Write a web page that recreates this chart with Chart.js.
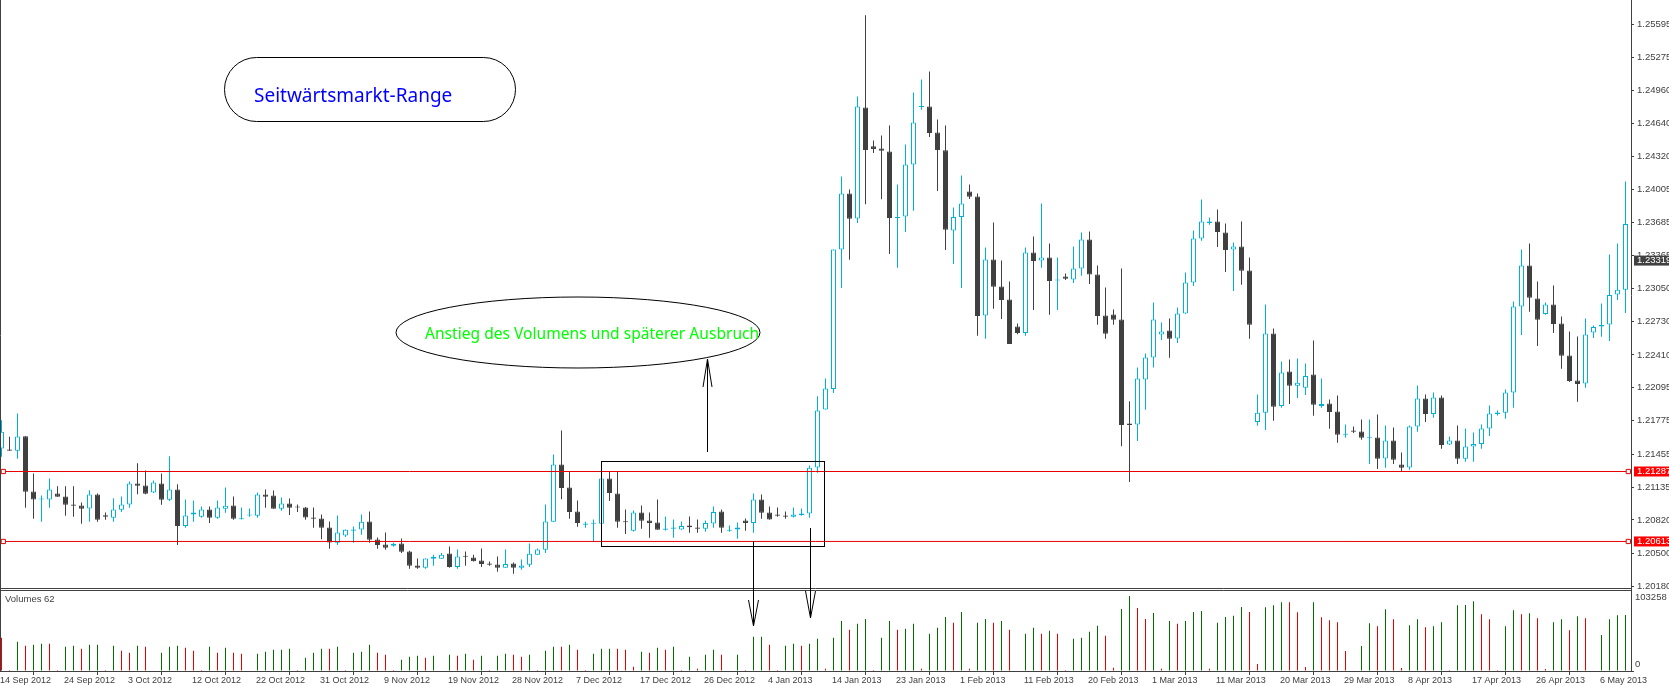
<!DOCTYPE html>
<html>
<head>
<meta charset="utf-8">
<style>
  html, body { margin: 0; padding: 0; background: #fff; overflow: hidden; }
  canvas { display: block; }
</style>
<script src="https://cdn.jsdelivr.net/npm/chart.js@4.4.2/dist/chart.umd.min.js"></script>
</head>
<body>
<canvas id="chart" width="1669" height="685"></canvas>
<script>
const dateLabels = ['14 Sep 2012','24 Sep 2012','3 Oct 2012','12 Oct 2012','22 Oct 2012','31 Oct 2012','9 Nov 2012','19 Nov 2012','28 Nov 2012','7 Dec 2012','17 Dec 2012','26 Dec 2012','4 Jan 2013','14 Jan 2013','23 Jan 2013','1 Feb 2013','11 Feb 2013','20 Feb 2013','1 Mar 2013','11 Mar 2013','20 Mar 2013','29 Mar 2013','8 Apr 2013','17 Apr 2013','26 Apr 2013','6 May 2013'];
const barsPerDateLabel = 8;
const priceTicks = [1.25595,1.25275,1.2496,1.2464,1.2432,1.24005,1.23685,1.23365,1.2305,1.2273,1.2241,1.22095,1.21775,1.21455,1.21135,1.2082,1.205,1.2018];
const levelHigh = 1.21287;
const levelLow = 1.20613;
const lastPrice = 1.23319;
const volumeMaxLabel = 103258;

const opens = [
1.21508,1.21499,1.21486,1.21627,1.21094,1.21017,1.21017,1.21075,1.21046,1.20969,
1.20959,1.20930,1.21065,1.20866,1.20841,1.20918,1.20969,1.21171,1.21152,1.21085,
1.21171,1.21014,1.21113,1.20763,1.20873,1.20850,1.20921,1.20841,1.20927,1.20959,
1.20828,1.20863,1.20860,1.21065,1.21056,1.20927,1.20979,1.20950,1.20940,1.20844,
1.20834,1.20747,1.20600,1.20670,1.20715,1.20728,1.20805,1.20632,1.20584,1.20571,
1.20593,1.20516,1.20381,1.20359,1.20446,1.20446,1.20497,1.20368,1.20474,1.20458,
1.20429,1.20401,1.20391,1.20359,1.20401,1.20359,1.20388,1.20484,1.20532,1.20802,
1.21354,1.21133,1.20902,1.20773,1.20783,1.20783,1.21219,1.21075,1.20805,1.20715,
1.20892,1.20815,1.20796,1.20725,1.20735,1.20728,1.20767,1.20747,1.20735,1.20786,
1.20902,1.20715,1.20728,1.20815,1.20792,1.21017,1.20892,1.20873,1.20863,1.20850,
1.20869,1.20882,1.21325,1.21884,1.22083,1.23425,1.23965,1.23724,1.24793,1.24421,
1.24398,1.24369,1.23730,1.23743,1.24244,1.24799,1.24803,1.24552,1.24382,1.23608,
1.23740,1.23984,1.23936,1.22789,1.23329,1.23069,1.22944,1.22683,1.22622,1.23396,
1.23319,1.23348,1.23127,1.23165,1.23136,1.23242,1.23521,1.23184,1.22789,1.22799,
1.22751,1.21749,1.21739,1.22173,1.22385,1.22606,1.22645,1.22568,1.22809,1.23107,
1.23531,1.23682,1.23695,1.23589,1.23425,1.23454,1.23223,1.21765,1.21852,1.22616,
1.21919,1.22250,1.22112,1.22093,1.22221,1.21919,1.21942,1.21865,1.21640,1.21682,
1.21672,1.21611,1.21614,1.21412,1.21585,1.21354,1.21325,1.21720,1.21990,1.21842,
1.21999,1.21547,1.21585,1.21409,1.21527,1.21553,1.21701,1.21842,1.21852,1.22048,
1.22876,1.23271,1.22953,1.22805,1.22895,1.22712,1.22404,1.22163,1.22134,1.22626,
1.22683,1.22703,1.22992,1.23037];
const highs = [
1.21781,1.21621,1.21846,1.21627,1.21268,1.21056,1.21219,1.21146,1.21146,1.21146,
1.20988,1.21107,1.21075,1.20892,1.21030,1.21046,1.21191,1.21367,1.21296,1.21200,
1.21268,1.21435,1.21165,1.21017,1.21007,1.20950,1.20950,1.21007,1.21133,1.21046,
1.20940,1.20930,1.21085,1.21113,1.21104,1.21036,1.21027,1.20969,1.20946,1.20940,
1.20873,1.20805,1.20863,1.20728,1.20757,1.20873,1.20902,1.20651,1.20699,1.20600,
1.20641,1.20523,1.20449,1.20449,1.20484,1.20503,1.20564,1.20535,1.20516,1.20484,
1.20545,1.20420,1.20468,1.20535,1.20410,1.20439,1.20593,1.20545,1.20969,1.21451,
1.21682,1.21287,1.21007,1.20802,1.20824,1.21219,1.21287,1.21284,1.20921,1.20911,
1.20959,1.20892,1.21017,1.20853,1.20824,1.20805,1.20853,1.20824,1.20815,1.20950,
1.20921,1.20767,1.20796,1.20834,1.21075,1.21065,1.20950,1.20940,1.20902,1.20940,
1.20930,1.21345,1.22012,1.22182,1.23425,1.24128,1.24003,1.24899,1.25683,1.24475,
1.24523,1.24620,1.24051,1.24437,1.24938,1.25063,1.25140,1.24677,1.24620,1.23830,
1.24138,1.24051,1.23965,1.23444,1.23685,1.23319,1.23117,1.22712,1.23444,1.23550,
1.23868,1.23483,1.23348,1.23194,1.23454,1.23589,1.23599,1.23271,1.23059,1.22847,
1.23242,1.21964,1.22289,1.22423,1.22915,1.22722,1.22761,1.22866,1.23204,1.23608,
1.23907,1.23733,1.23810,1.23676,1.23493,1.23695,1.23348,1.22028,1.22895,1.22664,
1.22346,1.22365,1.22375,1.22327,1.22549,1.22182,1.21980,1.22019,1.21739,1.21720,
1.21788,1.21788,1.21836,1.21730,1.21710,1.21470,1.21730,1.22115,1.22028,1.22048,
1.22019,1.21624,1.21730,1.21701,1.21662,1.21739,1.21922,1.21874,1.22076,1.22924,
1.23425,1.23483,1.23117,1.22915,1.23078,1.22780,1.22635,1.22587,1.22760,1.22693,
1.22905,1.23377,1.23483,1.24080];
const lows = [
1.21428,1.21486,1.21409,1.20937,1.20831,1.20802,1.20937,1.21043,1.20860,1.20850,
1.20783,1.20802,1.20802,1.20821,1.20802,1.20898,1.20937,1.21069,1.21069,1.21081,
1.20966,1.21004,1.20580,1.20744,1.20802,1.20841,1.20792,1.20831,1.20889,1.20821,
1.20824,1.20850,1.20841,1.20937,1.20927,1.20908,1.20869,1.20898,1.20821,1.20744,
1.20635,1.20542,1.20580,1.20657,1.20600,1.20677,1.20600,1.20542,1.20532,1.20561,
1.20503,1.20349,1.20349,1.20349,1.20378,1.20446,1.20359,1.20349,1.20378,1.20420,
1.20368,1.20378,1.20320,1.20359,1.20301,1.20340,1.20368,1.20484,1.20503,1.20802,
1.21020,1.20831,1.20754,1.20744,1.20613,1.20783,1.21004,1.20744,1.20686,1.20709,
1.20735,1.20648,1.20725,1.20719,1.20648,1.20725,1.20696,1.20696,1.20706,1.20744,
1.20696,1.20706,1.20638,1.20715,1.20696,1.20831,1.20821,1.20850,1.20831,1.20844,
1.20860,1.20841,1.21274,1.21884,1.22044,1.23056,1.23326,1.23682,1.23862,1.24356,
1.23910,1.23383,1.23249,1.23595,1.23798,1.24771,1.24510,1.23990,1.23422,1.23287,
1.23056,1.23913,1.22594,1.22565,1.22854,1.22757,1.22516,1.22610,1.22594,1.22844,
1.23249,1.22796,1.22844,1.23133,1.23104,1.23172,1.23094,1.22700,1.22565,1.22700,
1.21531,1.21187,1.21582,1.21881,1.22289,1.22555,1.22382,1.22526,1.22806,1.23075,
1.23509,1.23663,1.23451,1.23210,1.23027,1.23085,1.22565,1.21727,1.21688,1.21775,
1.21900,1.21938,1.21996,1.22025,1.21823,1.21900,1.21698,1.21563,1.21611,1.21659,
1.21592,1.21360,1.21312,1.21322,1.21360,1.21293,1.21303,1.21669,1.21765,1.21804,
1.21505,1.21543,1.21360,1.21380,1.21380,1.21505,1.21630,1.21826,1.21794,1.21900,
1.22603,1.22825,1.22497,1.22796,1.22622,1.22276,1.22150,1.21958,1.22093,1.22574,
1.22584,1.22545,1.22940,1.22815];
const closes = [
1.21669,1.21486,1.21624,1.21091,1.21017,1.21027,1.21113,1.21043,1.20966,1.20956,
1.20927,1.21065,1.20821,1.20850,1.20921,1.20969,1.21171,1.21149,1.21072,1.21181,
1.21014,1.21113,1.20763,1.20863,1.20892,1.20921,1.20841,1.20940,1.20956,1.20831,
1.20834,1.20873,1.21065,1.21043,1.20927,1.20979,1.20937,1.20940,1.20844,1.20831,
1.20744,1.20603,1.20699,1.20725,1.20728,1.20802,1.20629,1.20580,1.20552,1.20590,
1.20513,1.20378,1.20359,1.20449,1.20465,1.20484,1.20368,1.20468,1.20465,1.20423,
1.20397,1.20388,1.20359,1.20397,1.20359,1.20381,1.20494,1.20535,1.20805,1.21354,
1.21129,1.20898,1.20792,1.20786,1.20786,1.21219,1.21081,1.20802,1.20799,1.20892,
1.20812,1.20792,1.20725,1.20738,1.20747,1.20763,1.20751,1.20735,1.20792,1.20898,
1.20744,1.20725,1.20747,1.20792,1.21017,1.20889,1.20824,1.20860,1.20850,1.20873,
1.20882,1.21322,1.21874,1.22086,1.23425,1.23965,1.23721,1.24803,1.24385,1.24395,
1.24376,1.23730,1.23733,1.24244,1.24649,1.24803,1.24549,1.24385,1.23615,1.23740,
1.23868,1.23933,1.22786,1.23329,1.23066,1.22940,1.22516,1.22622,1.23396,1.23316,
1.23348,1.23123,1.23136,1.23143,1.23242,1.23521,1.23184,1.22786,1.22613,1.22748,
1.21736,1.21736,1.22183,1.22385,1.22751,1.22635,1.22565,1.22809,1.23107,1.23531,
1.23695,1.23695,1.23595,1.23422,1.23454,1.23220,1.22700,1.21852,1.22616,1.21910,
1.22240,1.22112,1.22141,1.22208,1.21929,1.21938,1.21861,1.21640,1.21649,1.21669,
1.21611,1.21617,1.21409,1.21585,1.21399,1.21322,1.21720,1.21990,1.21842,1.21999,
1.21543,1.21585,1.21409,1.21527,1.21553,1.21701,1.21845,1.21855,1.22048,1.22876,
1.23271,1.22960,1.22748,1.22895,1.22709,1.22401,1.22160,1.22131,1.22606,1.22680,
1.22699,1.22988,1.23037,1.23672];
const volumes = [
45700,1370,40200,34700,36100,37500,37500,1370,33400,34700,
30600,36100,36300,1370,34700,27900,25100,34700,33400,0,
25100,33400,34700,32000,27900,1370,33400,25100,32000,25100,
23800,0,23800,26500,29200,29400,30600,1370,18300,25100,
30600,30600,33400,1370,25100,26500,36100,25100,22400,1370,
15500,19700,21000,18300,21000,0,22400,21000,23800,15500,
21000,1370,21000,23800,22400,19700,22400,1370,27900,33400,
33400,36100,29200,1370,23800,30600,30800,30600,29200,5900,
26500,25100,32000,29200,33400,1370,19700,3200,22400,29200,
22400,0,22400,1370,47100,47300,36100,1370,34700,37500,
34700,37500,44300,3200,45700,69000,56700,64900,71700,1370,
45700,69000,56700,58000,64900,3200,51200,59400,74500,66300,
81300,3200,66300,71700,66300,69000,56700,0,51200,59400,
51200,55300,51200,1370,44300,45700,53900,62200,48400,4600,
85500,103258,86800,71700,80000,3200,69000,64900,69000,81300,
82700,3200,66300,74500,75900,88200,81300,9600,87700,90500,
94600,94600,80900,5500,94600,74000,69900,67200,27400,0,
34300,65800,61700,85000,71300,4100,63100,71300,60300,61700,
67200,1370,90500,90700,96000,78100,71300,1370,61700,83600,
78100,79500,72700,2700,67200,71300,56200,75400,72700,0,
49400,71300,76800,77000];

const bullColor = '#00b0d8';
const bearColor = '#404040';
const axisColor = '#404040';
const levelColor = '#e60000';
const volUpColor = '#006f00';
const volDownColor = '#e60000';
const dateFont = { family: 'Liberation Sans', size: 9 };
const priceFont = { family: 'Liberation Sans', size: 9.5 };

const isBull = i => closes[i] >= opens[i];
const volRising = i => i > 0 && volumes[i] > volumes[i - 1];

const wickData = highs.map((h, i) => ({ x: i, y: [lows[i], h] }));
const bodyData = opens.map((o, i) => ({ x: i, y: [o, closes[i]] }));
const volumeData = volumes.map((v, i) => ({ x: i, y: v }));

function levelLine(price) {
  return {
    type: 'line',
    yAxisID: 'y',
    data: [-1, 0.225, 203.35, 205].map(x => ({ x, y: price })),
    borderColor: levelColor,
    borderWidth: 1,
    pointStyle: 'rect',
    pointRadius: [0, 3, 3, 0],
    pointBackgroundColor: '#fff',
    pointBorderColor: levelColor,
    pointBorderWidth: 1,
    order: 0
  };
}

function drawArrow(ctx, x, fromY, tipY, wingY, wingX) {
  ctx.beginPath();
  ctx.moveTo(x, fromY);
  ctx.lineTo(x, tipY);
  ctx.moveTo(x - wingX, wingY);
  ctx.lineTo(x, tipY);
  ctx.lineTo(x + wingX, wingY);
  ctx.stroke();
}

function priceTag(ctx, scale, value, fill) {
  const y = scale.getPixelForValue(value);
  ctx.fillStyle = fill;
  ctx.fillRect(1634, y - 5, 35, 10);
  ctx.fillStyle = '#fff';
  ctx.font = '9.5px "Liberation Sans"';
  ctx.textAlign = 'left';
  ctx.textBaseline = 'middle';
  ctx.fillText(value.toFixed(5), 1637, y);
}

const overlay = {
  id: 'overlay',
  afterDraw(chart) {
    const ctx = chart.ctx;
    const priceScale = chart.scales.y;
    const volScale = chart.scales.yVol;
    ctx.save();

    // cadre et séparation des deux panneaux
    ctx.strokeStyle = axisColor;
    ctx.lineWidth = 1;
    ctx.beginPath();
    ctx.moveTo(0.5, 0);
    ctx.lineTo(0.5, 671);
    ctx.moveTo(0, 588.5);
    ctx.lineTo(1631, 588.5);
    ctx.moveTo(0, 590.5);
    ctx.lineTo(1631, 590.5);
    ctx.stroke();

    priceTag(ctx, priceScale, lastPrice, bearColor);
    priceTag(ctx, priceScale, levelHigh, '#ff0000');
    priceTag(ctx, priceScale, levelLow, '#ff0000');

    // libellés du volume
    ctx.fillStyle = axisColor;
    ctx.font = '9.5px "Liberation Sans"';
    ctx.textAlign = 'left';
    ctx.textBaseline = 'middle';
    ctx.fillText('Volumes 62', 5, 599);
    ctx.fillText(String(volumeMaxLabel), 1635, volScale.getPixelForValue(volumeMaxLabel) + 1);
    ctx.fillText('0', 1635, volScale.getPixelForValue(0) - 7);

    // annotations dessinées à la main sur le graphique
    ctx.strokeStyle = '#000';
    ctx.lineWidth = 1;
    ctx.beginPath();
    ctx.roundRect(224.5, 57.5, 291, 64, 32);
    ctx.stroke();
    ctx.beginPath();
    ctx.ellipse(578, 332.5, 182, 35.5, 0, 0, Math.PI * 2);
    ctx.stroke();
    ctx.strokeRect(601.5, 461.5, 223, 85);
    drawArrow(ctx, 707.5, 452, 359, 387, 4.5);
    drawArrow(ctx, 753.5, 541, 626, 600, 5);
    drawArrow(ctx, 810.5, 528, 618, 591, 5);

    ctx.textAlign = 'left';
    ctx.textBaseline = 'middle';
    ctx.fillStyle = '#0000ff';
    ctx.font = '19px "Noto Sans"';
    ctx.fillText('Seitwärtsmarkt-Range', 254, 96.5);
    ctx.fillStyle = '#00ff00';
    ctx.font = '15.6px "Noto Sans"';
    ctx.fillText('Anstieg des Volumens und späterer Ausbruch', 425, 335);
    ctx.restore();
  }
};

const fixWidth = s => { s.width = 38; s.paddingTop = 0; s.paddingBottom = 0; };

new Chart(document.getElementById('chart'), {
  type: 'bar',
  data: {
    datasets: [
      levelLine(levelHigh),
      levelLine(levelLow),
      {
        label: 'Corps',
        yAxisID: 'y',
        data: bodyData,
        grouped: false,
        barThickness: 5,
        minBarLength: 1,
        inflateAmount: 0,
        borderSkipped: false,
        borderWidth: 1,
        borderColor: c => isBull(c.dataIndex) ? bullColor : bearColor,
        backgroundColor: c => isBull(c.dataIndex) ? '#fff' : bearColor,
        order: 1
      },
      {
        label: 'Mèches',
        yAxisID: 'y',
        data: wickData,
        grouped: false,
        barThickness: 1,
        inflateAmount: 0,
        borderWidth: 0,
        backgroundColor: c => isBull(c.dataIndex) ? bullColor : bearColor,
        order: 2
      },
      {
        label: 'Volumes 62',
        yAxisID: 'yVol',
        data: volumeData,
        grouped: false,
        barThickness: 1,
        inflateAmount: 0,
        borderWidth: 0,
        backgroundColor: c => volRising(c.dataIndex) ? volUpColor : volDownColor,
        order: 3
      }
    ]
  },
  options: {
    responsive: false,
    animation: false,
    devicePixelRatio: 1,
    layout: { padding: 0 },
    plugins: { legend: { display: false }, tooltip: { enabled: false } },
    scales: {
      x: {
        type: 'linear',
        min: -1.5 / 8,
        max: (1631 - 1.5) / 8,
        offset: false,
        border: { color: axisColor },
        grid: { drawOnChartArea: false, color: axisColor, tickLength: 4 },
        afterBuildTicks: s => { s.ticks = dateLabels.map((_, k) => ({ value: k * barsPerDateLabel })); },
        afterFit: s => { s.height = 14; s.paddingLeft = 0; s.paddingRight = 0; },
        ticks: {
          align: 'start',
          autoSkip: false,
          maxRotation: 0,
          padding: 0,
          labelOffset: -1.5,
          color: axisColor,
          font: dateFont,
          callback: v => dateLabels[v / barsPerDateLabel]
        }
      },
      y: {
        position: 'right',
        stack: 'panes',
        stackWeight: 590,
        min: levelHigh - (590 - 471.5) / 10380,
        max: levelHigh + 471.5 / 10380,
        border: { color: axisColor },
        grid: { drawOnChartArea: false, color: axisColor, tickLength: 3 },
        afterBuildTicks: s => { s.ticks = priceTicks.map(value => ({ value })); },
        afterFit: fixWidth,
        ticks: {
          autoSkip: false,
          padding: 3,
          color: axisColor,
          font: priceFont,
          callback: v => v.toFixed(5)
        }
      },
      yVol: {
        position: 'right',
        stack: 'panes',
        stackWeight: 81,
        min: 0,
        max: volumeMaxLabel / 75 * 81,
        border: { color: axisColor },
        grid: { drawOnChartArea: false, color: axisColor, tickLength: 3 },
        afterBuildTicks: s => { s.ticks = [{ value: 0 }]; },
        afterFit: fixWidth,
        ticks: { display: false }
      }
    }
  },
  plugins: [overlay]
});
</script>
</body>
</html>
